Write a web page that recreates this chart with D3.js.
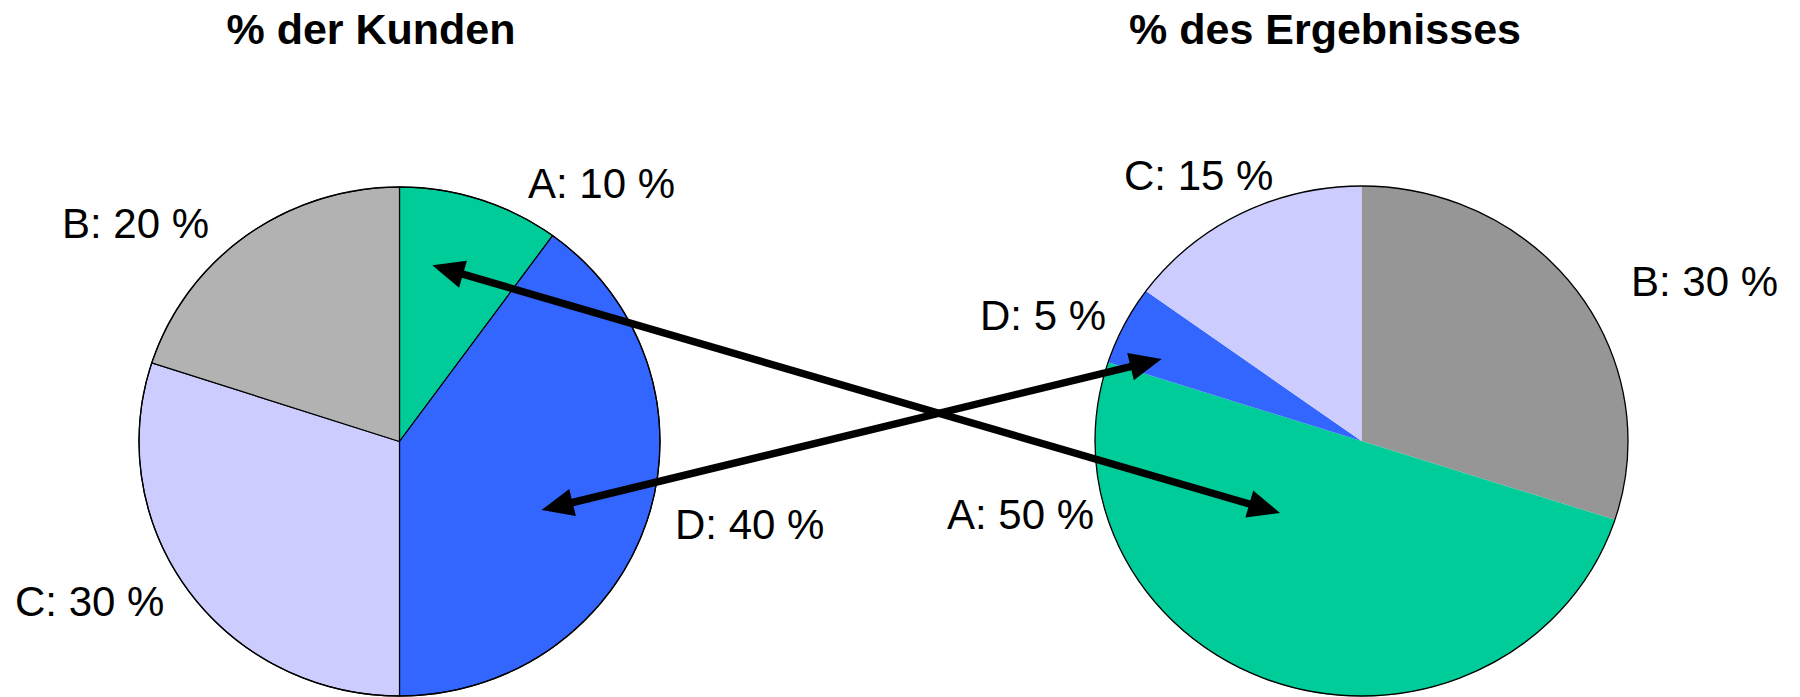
<!DOCTYPE html>
<html lang="de">
<head>
<meta charset="UTF-8">
<title>% der Kunden / % des Ergebnisses</title>
<script src="https://cdn.jsdelivr.net/npm/d3@7"></script>
<style>
  body { margin: 0; background: #fff; }
  text { font-family: "Liberation Sans", Arial, sans-serif; fill: #000; }
  .title { font-size: 43px; font-weight: bold; text-anchor: middle; }
  .label { font-size: 42px; }
</style>
</head>
<body>
<div id="chart"></div>
<script>
  // data
  var leftCats = ["A", "D", "C", "B"];
  var leftValues = [10, 40, 30, 20];
  var rightCats = ["B", "A", "D", "C"];
  var rightValues = [30, 50, 5, 15];
  var titles = ["% der Kunden", "% des Ergebnisses"];

  var W = 1800, H = 697;
  var svg = d3.select("#chart").append("svg")
    .attr("width", W).attr("height", H);

  // colours per category (right pie has a darker grey for B)
  var colLeft = { A: "#00CC99", B: "#B2B2B2", C: "#CCCCFF", D: "#3366FF" };
  var colRight = { A: "#00CC99", B: "#969696", C: "#CCCCFF", D: "#3366FF" };

  // pie layout: centre and radii (slightly elliptical like the original)
  var pies = [
    { cx: 399.5, cy: 441.5, rx: 260.5, ry: 254.5, titleX: 371, cats: leftCats, vals: leftValues, col: colLeft, inner: "#000",
      labels: { A: [128.5, -243.5], D: [275.5, 97.5], C: [-384.5, 174.5], B: [-337.5, -203.5] } },
    { cx: 1361.5, cy: 441, rx: 266.5, ry: 255, titleX: 1325, cats: rightCats, vals: rightValues, col: colRight, inner: "none",
      labels: { B: [269.5, -145], A: [-414.5, 88], D: [-381.5, -111], C: [-237.5, -251] } }
  ];

  var pie = d3.pie().sort(null).value(function(d) { return d.v; });

  pies.forEach(function(p, i) {
    var data = p.cats.map(function(c, k) { return { c: c, v: p.vals[k] }; });
    var arc = d3.arc().innerRadius(0).outerRadius(p.ry);

    var g = svg.append("g")
      .attr("transform", "translate(" + p.cx + "," + p.cy + ") scale(" + (p.rx / p.ry) + ",1)");

    g.selectAll("path.slice")
      .data(pie(data))
      .enter().append("path")
      .attr("class", "slice")
      .attr("d", arc)
      .attr("fill", function(d) { return p.col[d.data.c]; })
      .attr("stroke", p.inner)
      .attr("stroke-width", 1.2)
      .attr("vector-effect", "non-scaling-stroke");

    // outline
    g.append("circle")
      .attr("r", p.ry)
      .attr("fill", "none")
      .attr("stroke", "#000")
      .attr("stroke-width", 1.3)
      .attr("vector-effect", "non-scaling-stroke");

    svg.append("text")
      .attr("class", "title")
      .attr("x", p.titleX)
      .attr("y", 44)
      .text(titles[i]);

    svg.selectAll(null)
      .data(data)
      .enter().append("text")
      .attr("class", "label")
      .attr("x", function(d) { return p.cx + p.labels[d.c][0]; })
      .attr("y", function(d) { return p.cy + p.labels[d.c][1]; })
      .text(function(d) { return d.c + ": " + d.v + " %"; });
  });

  // point inside a pie: angle clockwise from 12 o'clock (deg), radius as fraction
  function pt(p, ang, f) {
    var a = ang * Math.PI / 180;
    return [p.cx + Math.sin(a) * p.rx * f, p.cy - Math.cos(a) * p.ry * f];
  }

  // double headed arrows linking the same category
  var arrows = [
    [pt(pies[0], 10.3, 0.704), pt(pies[1], 227.3, 0.416)],
    [pt(pies[0], 116.3, 0.608), pt(pies[1], 293.2, 0.816)]
  ];

  var headL = 32, headW = 14, lw = 7.5;
  arrows.forEach(function(a) {
    var p0 = a[0], p1 = a[1];
    var dx = p1[0] - p0[0], dy = p1[1] - p0[1];
    var len = Math.sqrt(dx * dx + dy * dy);
    var ux = dx / len, uy = dy / len, nx = -uy, ny = ux;

    svg.append("line")
      .attr("x1", p0[0] + ux * headL * 0.8).attr("y1", p0[1] + uy * headL * 0.8)
      .attr("x2", p1[0] - ux * headL * 0.8).attr("y2", p1[1] - uy * headL * 0.8)
      .attr("stroke", "#000").attr("stroke-width", lw);

    [[p0, 1], [p1, -1]].forEach(function(h) {
      var t = h[0], s = h[1];
      var bx = t[0] + s * ux * headL, by = t[1] + s * uy * headL;
      var pts = [t, [bx + nx * headW, by + ny * headW], [bx - nx * headW, by - ny * headW]];
      svg.append("path")
        .attr("d", d3.line()(pts) + "Z")
        .attr("fill", "#000");
    });
  });
</script>
</body>
</html>
